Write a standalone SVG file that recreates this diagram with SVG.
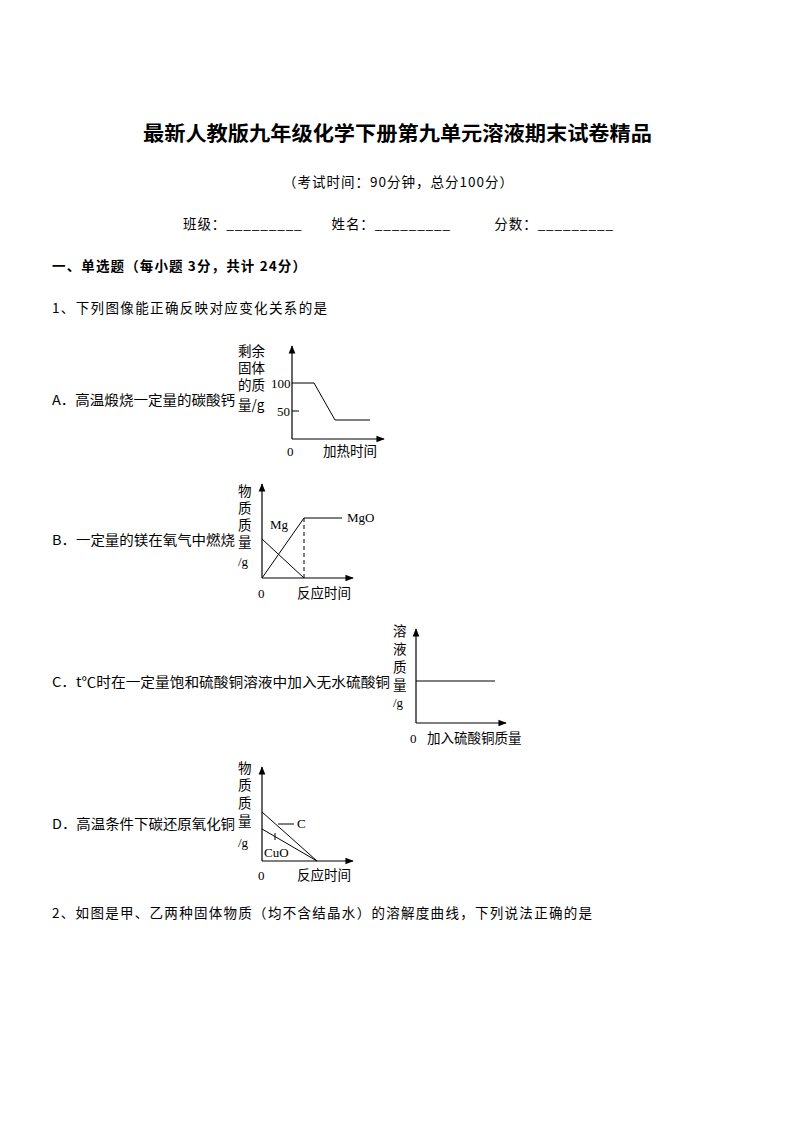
<svg xmlns="http://www.w3.org/2000/svg" width="794" height="1123" viewBox="0 0 794 1123">
<style>
text{font-family:"Noto Sans CJK SC","Liberation Serif",serif;fill:#000}
.t{font-size:13.5px}
.r{font-family:"Liberation Serif","Noto Sans CJK SC",serif;font-size:13px}
.ax{stroke:#000;stroke-width:1.2;fill:none}
.ln{stroke:#000;stroke-width:1;fill:none}
</style>
<defs><marker id="ar" viewBox="0 0 10 10" refX="9" refY="5" markerWidth="7" markerHeight="7" orient="auto"><path d="M0,1 L10,5 L0,9 z" fill="#000"/></marker></defs>
<rect width="794" height="1123" fill="#fff"/>
<g id="header">
<text x="143" y="141" font-size="20" font-weight="bold" textLength="509" lengthAdjust="spacingAndGlyphs">最新人教版九年级化学下册第九单元溶液期末试卷精品</text>
<text x="283" y="187" class="t" textLength="230">（考试时间：90分钟，总分100分）</text>
<text x="183" y="229" class="t" textLength="430">班级：_________　　姓名：_________　　　分数：_________</text>
<text x="52" y="271" class="t" font-weight="bold" textLength="254">一、单选题（每小题 3分，共计 24分）</text>
<text x="52" y="313" class="t" textLength="275">1、下列图像能正确反映对应变化关系的是</text>
<text x="52" y="918" class="t" textLength="540">2、如图是甲、乙两种固体物质（均不含结晶水）的溶解度曲线，下列说法正确的是</text>
</g>
<g id="optA">
<text x="52" y="405" class="t" textLength="183" lengthAdjust="spacingAndGlyphs">A．高温煅烧一定量的碳酸钙</text>
<text x="238" y="356" class="t">剩余</text><text x="238" y="373" class="t">固体</text><text x="238" y="390" class="t">的质</text><text x="238" y="410" class="t">量/g</text>
<text x="271" y="388" class="r">100</text><text x="277" y="416" class="r">50</text>
<text x="287" y="456" class="r">0</text><text x="323" y="456" class="t">加热时间</text>
</g>
<g id="optB">
<text x="52" y="545" class="t" textLength="183" lengthAdjust="spacingAndGlyphs">B．一定量的镁在氧气中燃烧</text>
<text x="238" y="496" class="t">物</text><text x="238" y="513" class="t">质</text><text x="238" y="530" class="t">质</text><text x="238" y="547" class="t">量</text><text x="238" y="566" class="r">/g</text>
<text x="270" y="529" class="r">Mg</text><text x="347" y="522" class="r">MgO</text>
<text x="258" y="598" class="r">0</text><text x="297" y="598" class="t">反应时间</text>
</g>
<g id="optC">
<text x="52" y="687" class="t" textLength="338" lengthAdjust="spacingAndGlyphs">C．t℃时在一定量饱和硫酸铜溶液中加入无水硫酸铜</text>
<text x="393" y="636" class="t">溶</text><text x="393" y="654" class="t">液</text><text x="393" y="672" class="t">质</text><text x="393" y="690" class="t">量</text><text x="393" y="707" class="r">/g</text>
<text x="410" y="743" class="r">0</text><text x="427" y="743" class="t">加入硫酸铜质量</text>
</g>
<g id="optD">
<text x="52" y="829" class="t" textLength="183" lengthAdjust="spacingAndGlyphs">D．高温条件下碳还原氧化铜</text>
<text x="238" y="773" class="t">物</text><text x="238" y="790" class="t">质</text><text x="238" y="808" class="t">质</text><text x="238" y="826" class="t">量</text><text x="238" y="847" class="r">/g</text>
<text x="297" y="828" class="r">C</text><text x="264" y="857" class="r">CuO</text>
<text x="258" y="880" class="r">0</text><text x="297" y="880" class="t">反应时间</text>
</g>
<g id="connectors">
<path class="ax" d="M292,439 V346" marker-end="url(#ar)"/><path class="ax" d="M292,439 H384" marker-end="url(#ar)"/>
<path class="ln" d="M292,383 H314 L335,420 H370 M292,411 H299"/>
<path class="ax" d="M262,578 V484" marker-end="url(#ar)"/><path class="ax" d="M262,578 H353" marker-end="url(#ar)"/>
<path class="ln" d="M262,578 L304,518 H342 M262,539 L304,578"/>
<path class="ln" d="M304,518 V578" stroke-dasharray="4,3"/>
<path class="ax" d="M416,723 V629" marker-end="url(#ar)"/><path class="ax" d="M416,723 H506" marker-end="url(#ar)"/>
<path class="ln" d="M416,681 H495"/>
<path class="ax" d="M262,861 V767" marker-end="url(#ar)"/><path class="ax" d="M262,861 H353" marker-end="url(#ar)"/>
<path class="ln" d="M262,812 L317,861 M262,829 L317,861 M278,824 H294 M275,833 V840"/>
</g>
</svg>
